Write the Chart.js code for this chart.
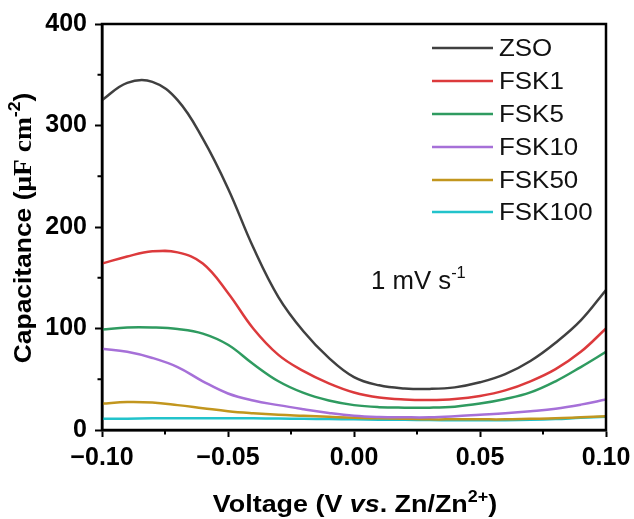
<!DOCTYPE html>
<html>
<head>
<meta charset="utf-8">
<script src="https://cdn.jsdelivr.net/npm/chart.js@4.4.1/dist/chart.umd.min.js"></script>
<style>
html,body{margin:0;padding:0;background:#fff;}
#wrap{width:634px;height:519px;position:relative;}
</style>
</head>
<body>
<div id="wrap"><canvas id="c" width="634" height="519"></canvas></div>
<script>
// ---- data ----
const voltage = [-0.10,-0.09,-0.08,-0.07,-0.06,-0.05,-0.04,-0.03,-0.02,-0.01,0.00,0.01,0.02,0.03,0.04,0.05,0.06,0.07,0.08,0.09,0.10];
const ZSO    = [325, 342, 343, 325, 287, 238, 180, 131, 97, 71, 52, 44, 41, 40.5, 42, 47, 55, 68, 86, 108, 138];
const FSK1   = [164, 171, 176, 175, 164, 135, 100, 74, 58, 46, 37, 32, 30, 29.5, 30.5, 33.5, 39, 48, 60, 77, 100];
const FSK5   = [99, 101, 101, 99.5, 95, 84, 65, 48, 36.5, 29, 24.5, 22.5, 22, 22, 23, 26, 30.5, 37, 48, 62, 77];
const FSK10  = [80, 77, 71, 62, 48, 36, 29, 24.5, 20.5, 16.8, 14, 12.8, 12.5, 12.5, 13.5, 15, 16.5, 18.5, 21, 25, 30];
const FSK50  = [26, 27.5, 27, 24.5, 21.5, 18.5, 16.5, 15, 14, 13, 12, 11.5, 11, 10.5, 10.5, 10.5, 10.5, 11, 11.5, 12.5, 13.5];
const FSK100 = [11, 11.2, 11.5, 11.5, 11.5, 11.5, 11.5, 11.3, 11, 10.8, 10.5, 10.2, 10, 9.8, 9.6, 9.5, 9.6, 10, 10.8, 12, 13];
const seriesNames = ['ZSO','FSK1','FSK5','FSK10','FSK50','FSK100'];
const xTicks = [-0.10, -0.05, 0.00, 0.05, 0.10];
const yTicks = [0, 100, 200, 300, 400];

const colors = ['#404040','#dc3a3c','#2f9b60','#a670d8','#c2961e','#22c3cb'];
const allSeries = [ZSO, FSK1, FSK5, FSK10, FSK50, FSK100];

const datasets = allSeries.map((arr, i) => ({
  label: seriesNames[i],
  data: arr.map((v, j) => ({x: voltage[j], y: v})),
  borderColor: colors[i],
  backgroundColor: colors[i],
  borderWidth: 2.5,
  pointRadius: 0,
  tension: 0.4,
  fill: false
}));

const SANS = '"Liberation Sans", Arial, sans-serif';
const BOLD = 'bold 24px ' + SANS;

function drawSegments(ctx, segs, x, y, align, sx) {
  sx = sx || 1;
  let total = 0;
  segs.forEach(s => { ctx.font = s.font; total += ctx.measureText(s.text).width; });
  ctx.save();
  ctx.translate(x, y);
  ctx.scale(sx, 1);
  let cx = align === 'center' ? -total / 2 : 0;
  segs.forEach(s => {
    ctx.font = s.font;
    ctx.fillText(s.text, cx, (s.dy || 0));
    cx += ctx.measureText(s.text).width;
  });
  ctx.restore();
}

const decor = {
  id: 'decor',
  afterDraw(chart) {
    const ctx = chart.ctx;
    const a = chart.chartArea;
    const xs = chart.scales.x, ys = chart.scales.y;
    ctx.save();
    // frame
    ctx.strokeStyle = '#000';
    ctx.lineWidth = 2.5;
    ctx.strokeRect(a.left, a.top, a.right - a.left, a.bottom - a.top);
    // minor ticks
    ctx.lineWidth = 2;
    ctx.beginPath();
    [-0.075, -0.025, 0.025, 0.075].forEach(v => {
      const px = xs.getPixelForValue(v);
      ctx.moveTo(px, a.bottom); ctx.lineTo(px, a.bottom + 4.5);
    });
    [50, 150, 250, 350].forEach(v => {
      const py = ys.getPixelForValue(v);
      ctx.moveTo(a.left, py); ctx.lineTo(a.left - 4.5, py);
    });
    ctx.stroke();
    // legend
    ctx.textBaseline = 'middle';
    ctx.textAlign = 'left';
    ctx.fillStyle = '#111';
    const rowY = [48, 81, 114, 147, 180, 212];
    chart.data.datasets.forEach((ds, i) => {
      ctx.strokeStyle = ds.borderColor;
      ctx.lineWidth = 2.5;
      ctx.beginPath();
      ctx.moveTo(432, rowY[i]); ctx.lineTo(493, rowY[i]);
      ctx.stroke();
      drawSegments(ctx, [{text: ds.label, font: '24px ' + SANS}], 499, rowY[i] + 1, 'left', 1.08);
    });
    // annotation
    ctx.textBaseline = 'alphabetic';
    ctx.fillStyle = '#111';
    drawSegments(ctx, [
      {text: '1 mV s', font: '25px ' + SANS},
      {text: '-1', font: '16px ' + SANS, dy: -11}
    ], 371, 289, 'left', 1.03);
    // x title
    ctx.fillStyle = '#000';
    drawSegments(ctx, [
      {text: 'Voltage (V ', font: BOLD},
      {text: 'vs', font: 'italic bold 24px ' + SANS},
      {text: '. Zn/Zn', font: BOLD},
      {text: '2+', font: 'bold 16px ' + SANS, dy: -10},
      {text: ')', font: BOLD}
    ], 355, 512, 'center', 1.12);
    // y title
    ctx.translate(31, 228);
    ctx.rotate(-Math.PI / 2);
    drawSegments(ctx, [
      {text: 'Capacitance (', font: BOLD},
      {text: 'μF cm', font: 'bold 25px "Liberation Serif", "Times New Roman", serif'},
      {text: '-2', font: 'bold 16px ' + SANS, dy: -11},
      {text: ')', font: BOLD}
    ], 0, 0, 'center', 1.1);
    ctx.restore();
  }
};

new Chart(document.getElementById('c'), {
  type: 'line',
  data: { datasets },
  options: {
    responsive: false,
    animation: false,
    layout: { padding: { top: 24, right: 28, left: 0, bottom: 0 } },
    plugins: { legend: { display: false }, tooltip: { enabled: false } },
    scales: {
      x: {
        type: 'linear',
        min: -0.1, max: 0.1,
        afterBuildTicks: s => { s.ticks = xTicks.map(v => ({value: v})); },
        afterFit: s => { s.height = 89; s.paddingLeft = 0; s.paddingRight = 0; },
        border: { display: true, color: '#000', width: 2.5 },
        grid: { drawOnChartArea: false, drawTicks: true, tickLength: 7, tickWidth: 2, tickColor: '#000' },
        ticks: {
          color: '#000',
          font: { family: SANS, size: 25, weight: 'bold' },
          padding: 6,
          maxRotation: 0,
          callback: v => (v < 0 ? '\u2212' : '') + Math.abs(v).toFixed(2)
        }
      },
      y: {
        type: 'linear',
        min: 0, max: 400,
        afterBuildTicks: s => { s.ticks = yTicks.map(v => ({value: v})); },
        afterFit: s => { s.width = 102; s.paddingTop = 0; s.paddingBottom = 0; },
        border: { display: true, color: '#000', width: 2.5 },
        grid: { drawOnChartArea: false, drawTicks: true, tickLength: 7, tickWidth: 2, tickColor: '#000' },
        ticks: {
          color: '#000',
          font: { family: SANS, size: 25, weight: 'bold' },
          padding: 8,
          callback: v => String(v)
        }
      }
    }
  },
  plugins: [decor]
});
</script>
</body>
</html>
